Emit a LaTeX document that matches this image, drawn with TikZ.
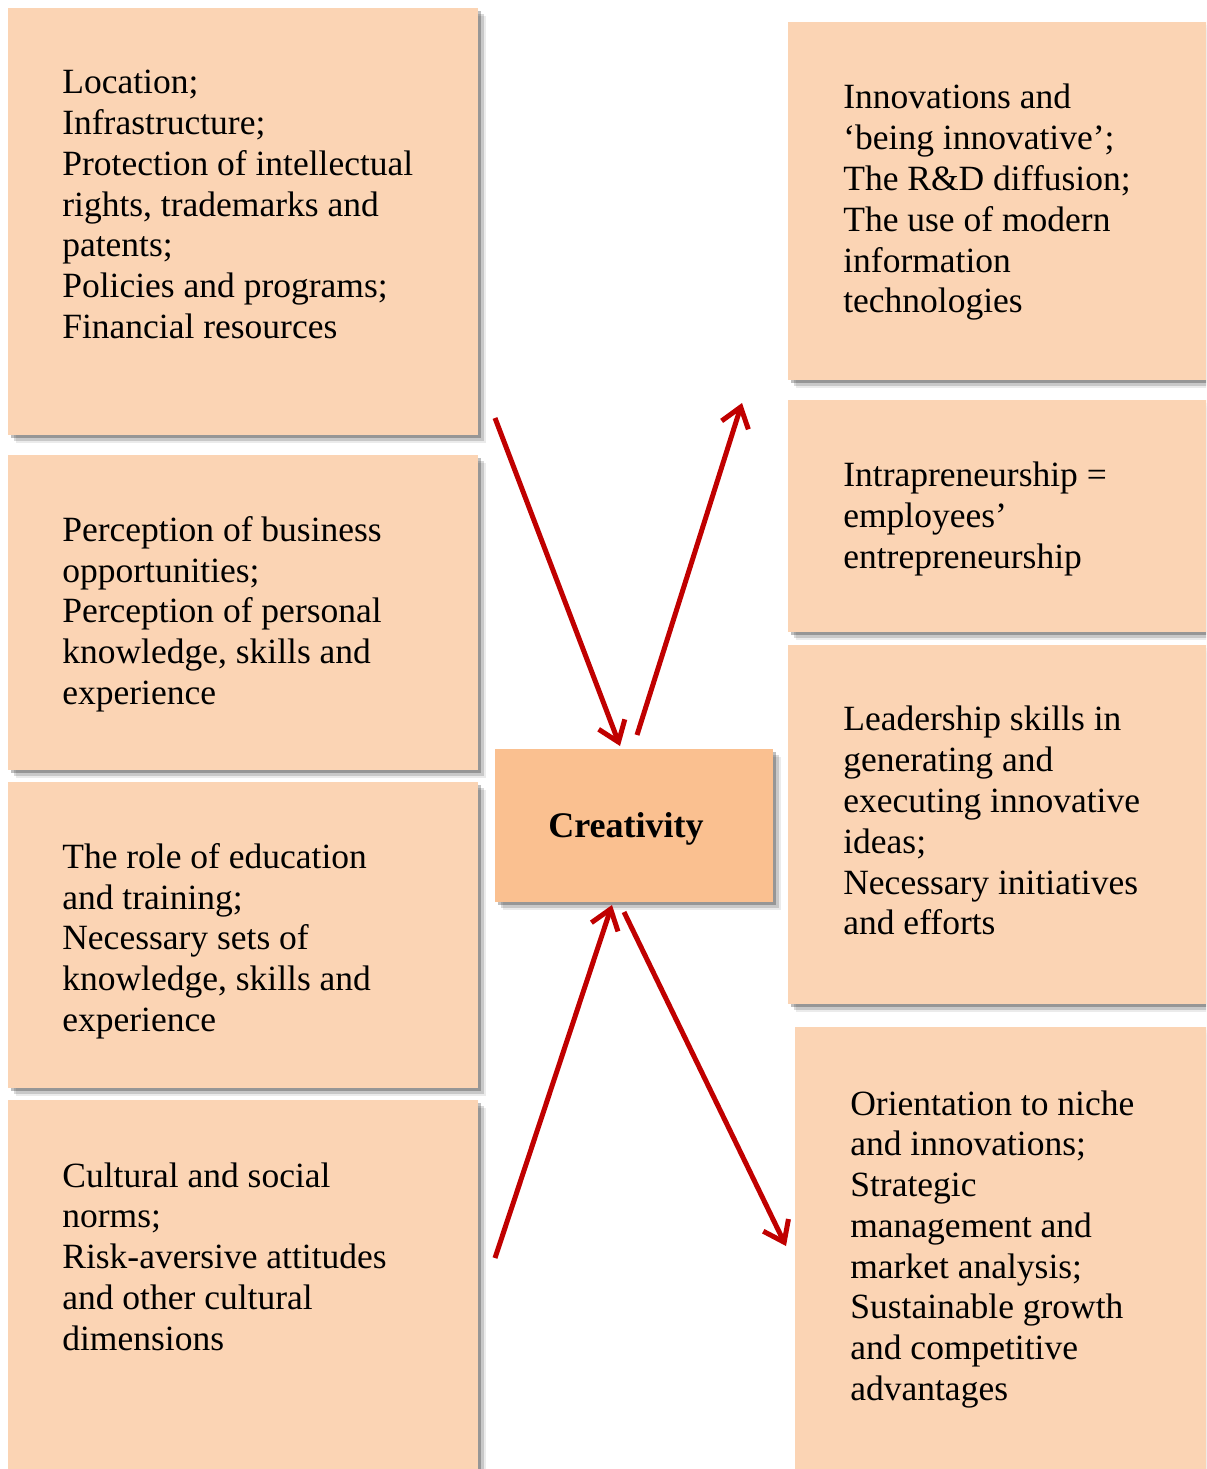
\documentclass[tikz,border=0pt]{standalone}
\usepackage{fontspec}
\setmainfont{Liberation Serif}
\usetikzlibrary{arrows.meta,shadows}
\definecolor{peach}{HTML}{FBD4B4}
\definecolor{apricot}{HTML}{FAC090}
\definecolor{darkred}{HTML}{C00000}

\begin{document}
\begin{tikzpicture}[x=0.2mm,y=-0.2mm,
	box/.style={fill=peach, draw=none, anchor=north west, inner sep=0pt,
		drop shadow={shadow xshift=1.6mm,shadow yshift=-1.6mm,fill=black,opacity=0.08},
		drop shadow={shadow xshift=1.1mm,shadow yshift=-1.1mm,fill=black,opacity=0.15},
		drop shadow={shadow xshift=0.6mm,shadow yshift=-0.6mm,fill=black,opacity=0.25}},
	txt/.style={anchor=north west, align=left, inner sep=0pt, font=\fontsize{20.2}{23.2}\selectfont},
	arr/.style={darkred, line width=1mm, -{Straight Barb[length=3.8mm,width=5.6mm]}}]
		%%Frame
		\useasboundingbox (0,0) rectangle (1206,1469);
		\clip (0,0) rectangle (1206,1469);
		%%Left boxes
		\node[box, minimum width=94mm, minimum height=85.4mm] (location) at (8,8) {};
		\node[box, minimum width=94mm, minimum height=63mm] (perception) at (8,455) {};
		\node[box, minimum width=94mm, minimum height=61.2mm] (education) at (8,782) {};
		\node[box, minimum width=94mm, minimum height=80mm] (culture) at (8,1100) {};
		%%Right boxes
		\node[box, minimum width=86mm, minimum height=71.6mm] (innovation) at (788,22) {};
		\node[box, minimum width=86mm, minimum height=46.4mm] (intra) at (788,400) {};
		\node[box, minimum width=86mm, minimum height=71.8mm] (leader) at (788,645) {};
		\node[box, minimum width=84mm, minimum height=92mm] (strategy) at (795,1027) {};
		%%Centre
		\node[box, fill=apricot, minimum width=55.6mm, minimum height=30.6mm] (creat) at (495,749) {};
		\node[font=\fontsize{20.5}{23.2}\selectfont\bfseries] (creatlabel) at (626,829) {Creativity};
		
		%%Label
		\node[txt] (locationtxt) at (62,70) {Location;\\Infrastructure;\\Protection of intellectual\\rights, trademarks and\\patents;\\Policies and programs;\\Financial resources};
		\node[txt] (perceptiontxt) at (62,516) {Perception of business\\opportunities;\\Perception of personal\\knowledge, skills and\\experience};
		\node[txt] (educationtxt) at (62,843) {The role of education\\and training;\\Necessary sets of\\knowledge, skills and\\experience};
		\node[txt] (culturetxt) at (62,1162) {Cultural and social\\norms;\\Risk-aversive attitudes\\and other cultural\\dimensions};
		\node[txt] (innovationtxt) at (843,84) {Innovations and\\‘being innovative’;\\The R\&D diffusion;\\The use of modern\\information\\technologies};
		\node[txt] (intratxt) at (843,462) {Intrapreneurship =\\employees’\\entrepreneurship};
		\node[txt] (leadertxt) at (843,706) {Leadership skills in\\generating and\\executing innovative\\ideas;\\Necessary initiatives\\and efforts};
		\node[txt] (strategytxt) at (850,1090) {Orientation to niche\\and innovations;\\Strategic\\management and\\market analysis;\\Sustainable growth\\and competitive\\advantages};
		
		%%Arrows
		\coordinate (inA) at (495,418);
		\coordinate (inAend) at (620,746);
		\coordinate (outA) at (637,735);
		\coordinate (outAend) at (742,403);
		\coordinate (inB) at (495,1258);
		\coordinate (inBend) at (612,905);
		\coordinate (outB) at (624,912);
		\coordinate (outBend) at (786,1246);
		\draw[arr] (inA) -- (inAend);
		\draw[arr] (outA) -- (outAend);
		\draw[arr] (inB) -- (inBend);
		\draw[arr] (outB) -- (outBend);
\end{tikzpicture}
\end{document}
